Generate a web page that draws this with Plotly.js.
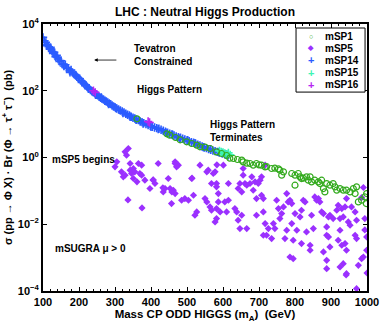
<!DOCTYPE html>
<html>
<head>
<meta charset="utf-8">
<script src="https://cdn.plot.ly/plotly-3.0.1.min.js"></script>
<style>
  html, body { margin: 0; padding: 0; background: #fff; }
  #chart { width: 382px; height: 327px; }
</style>
</head>
<body>
<div id="chart"></div>
<script>
// values: mass m_A in GeV, cross section as log10(sigma / pb)
const msp1Mass = [361, 444, 452, 468, 481, 499, 513, 527, 536, 550, 564, 582, 596, 610, 619, 629, 640, 652, 656, 666,
  675, 684, 693, 700, 707, 717, 721, 735, 744, 754, 758, 768, 763, 791, 800, 809, 814, 818, 823, 832,
  837, 842, 846, 855, 865, 869, 874, 879, 883, 888, 897, 906, 911, 916, 925, 934, 943, 953, 962, 971,
  967, 976, 985, 994, 999, 998, 800];
const msp1Log = [1.16, 0.71, 0.67, 0.60, 0.53, 0.47, 0.42, 0.37, 0.32, 0.31, 0.27, 0.17, 0.12, 0.06, -0.02, -0.03, -0.06, -0.08, -0.13, -0.17,
  -0.18, -0.23, -0.18, -0.22, -0.23, -0.28, -0.27, -0.33, -0.32, -0.34, -0.38, -0.43, -0.53, -0.48, -0.53, -0.48, -0.58, -0.63, -0.62, -0.58,
  -0.68, -0.58, -0.73, -0.68, -0.73, -0.78, -0.68, -0.93, -1.03, -0.78, -0.83, -0.78, -0.88, -0.98, -0.93, -0.98, -0.98, -1.03, -0.93, -0.88,
  -1.08, -1.33, -1.28, -1.18, -1.08, -1.38, -0.83];

const msp5Mass = [337, 332, 328, 300, 305, 318, 323, 328, 342, 346, 351, 355, 342, 365, 374, 369, 374, 351, 383, 397,
  406, 411, 420, 439, 434, 448, 453, 462, 467, 457, 467, 476, 471, 485, 494, 504, 513, 518, 522, 527,
  536, 550, 555, 559, 564, 568, 573, 578, 568, 582, 582, 587, 587, 578, 582, 592, 582, 601, 605, 615,
  610, 615, 633, 638, 642, 647, 642, 647, 652, 656, 661, 666, 652, 666, 656, 675, 680, 689, 684, 693,
  693, 698, 703, 707, 712, 712, 717, 712, 721, 707, 717, 726, 735, 740, 744, 749, 754, 758, 763, 768,
  777, 781, 786, 791, 772, 777, 791, 795, 786, 795, 800, 805, 814, 818, 818, 823, 828, 832, 842, 842,
  846, 851, 855, 860, 865, 869, 874, 879, 888, 893, 897, 888, 893, 879, 897, 888, 888, 906, 916, 920,
  925, 930, 934, 939, 943, 948, 953, 925, 920, 930, 939, 943, 925, 934, 943, 957, 967, 971, 967, 971,
  976, 985, 990, 999, 999, 971, 994, 942, 1000, 990, 985, 994, 361, 406, 433, 458, 467, 514, 555, 583,
  336, 375];
const msp5Log = [0.27, 0.07, 0.17, -0.28, -0.13, -0.43, -0.58, -0.53, -0.38, -0.48, -0.33, -0.43, -0.18, -0.18, -0.23, -0.48, -0.53, -0.63, -0.68, -0.93,
  -0.68, -0.78, -0.18, -0.93, -1.03, -0.63, -0.93, -0.98, -1.08, -1.38, -0.18, -0.23, -0.28, -1.28, -1.23, -1.28, -0.63, -1.13, -1.73, -1.63,
  -0.23, -1.23, -1.33, -0.38, -1.48, -1.58, -0.48, -0.43, -0.78, -0.78, -0.88, -1.08, -1.33, -1.93, -1.83, -1.63, -1.53, -0.23, -1.33, -1.28,
  -1.63, -0.78, -1.53, -1.63, -0.93, -0.78, -1.88, -2.13, -1.73, -0.53, -0.78, -0.83, -1.03, -2.13, -0.33, -0.78, -0.58, -0.73, -0.98, -1.23,
  -1.73, -0.78, -0.68, -1.13, -1.23, -1.63, -1.98, -2.33, -2.33, -0.58, -0.23, -2.13, -2.43, -1.98, -2.13, -1.28, -1.53, -1.83, -1.68, -1.48,
  -1.08, -1.33, -1.28, -1.38, -2.43, -2.18, -1.98, -2.48, -2.98, -3.03, -1.68, -2.18, -1.78, -1.58, -2.58, -1.28, -1.33, -2.23, -2.63, -2.78,
  -1.73, -2.13, -1.18, -1.28, -1.23, -1.33, -1.63, -1.68, -2.08, -1.78, -1.73, -2.33, -2.38, -2.83, -2.68, -3.08, -3.33, -1.83, -1.58, -1.43,
  -1.83, -1.53, -1.78, -1.48, -1.23, -1.93, -2.03, -2.18, -2.48, -2.63, -2.58, -2.78, -3.28, -3.18, -3.48, -1.48, -1.63, -1.88, -2.33, -2.43,
  -3.23, -3.03, -2.98, -2.38, -2.78, -3.93, -1.83, -3.52, -3.46, -0.90, -1.20, -2.17, -0.73, -0.67, -0.91, -1.03, -0.13, -0.62, -0.43, -0.22,
  -1.27, -1.51];

const msp14Mass = [100, 104, 108, 112, 116, 119, 121, 125, 128, 131, 135, 138, 142, 146, 150, 153, 158, 162, 166, 170,
  174, 178, 182, 186, 190, 194, 198, 202, 206, 210, 213, 217, 220, 224, 228, 232, 236, 240, 244, 248,
  252, 256, 260, 264, 268, 272, 276, 280, 284, 288, 292, 296, 300, 305, 310, 315, 320, 325, 330, 335,
  340, 345, 350, 355, 360, 365, 370, 375, 380, 386, 392, 398, 404, 410, 416, 422, 428, 434, 440, 446,
  452, 458, 464, 470, 476, 482, 488, 494, 500, 506, 512, 518, 524, 530, 536, 542, 548, 554, 560, 566,
  572, 578, 584, 590, 598, 606, 614,
  110, 123, 140, 157, 175, 192, 208, 226, 246, 262, 282, 302, 322, 342, 358, 378, 400, 420, 442, 460,
  480, 502, 522, 545, 565, 588, 610];
const msp14Log = [3.60, 3.50, 3.45, 3.38, 3.32, 3.26, 3.30, 3.18, 3.12, 3.15, 3.02, 3.06, 2.95, 2.88, 2.90, 2.80, 2.74, 2.78, 2.68, 2.66,
  2.60, 2.62, 2.55, 2.50, 2.47, 2.42, 2.38, 2.36, 2.30, 2.26, 2.22, 2.18, 2.15, 2.10, 2.08, 2.02, 1.99, 1.95, 1.92, 1.88,
  1.86, 1.82, 1.79, 1.76, 1.74, 1.70, 1.68, 1.65, 1.62, 1.60, 1.56, 1.53, 1.51, 1.47, 1.44, 1.41, 1.38, 1.35, 1.31, 1.28,
  1.26, 1.22, 1.19, 1.17, 1.13, 1.12, 1.08, 1.06, 1.03, 1.00, 0.97, 0.95, 0.92, 0.90, 0.88, 0.86, 0.83, 0.80, 0.77, 0.74,
  0.71, 0.69, 0.66, 0.63, 0.61, 0.59, 0.56, 0.54, 0.51, 0.49, 0.46, 0.44, 0.41, 0.38, 0.36, 0.33, 0.30, 0.28, 0.25, 0.23,
  0.21, 0.19, 0.17, 0.15, 0.12, 0.09, 0.06,
  3.35, 3.24, 3.00, 2.80, 2.55, 2.45, 2.25, 2.06, 1.88, 1.80, 1.60, 1.48, 1.33, 1.22, 1.14, 1.02, 0.92, 0.85, 0.74, 0.68,
  0.57, 0.52, 0.43, 0.31, 0.25, 0.16, 0.10];

const msp15Mass = [590, 595, 600, 605, 610, 615, 620];
const msp15Log = [0.20, 0.17, 0.15, 0.12, 0.10, 0.14, 0.08];

const msp16Mass = [240, 245, 392, 396];
const msp16Log = [2.00, 1.95, 1.08, 1.05];

const xTicks = [100, 200, 300, 400, 500, 600, 700, 800, 900, 1000];
const yTicks = [1e-4, 1e-2, 1, 1e2, 1e4];
const yTickText = ["10<sup>−4</sup>", "10<sup>−2</sup>", "10<sup>0</sup>", "10<sup>2</sup>", "10<sup>4</sup>"];

const font = "Liberation Sans, Arial, Helvetica, sans-serif";
const pow10 = a => a.map(v => Math.pow(10, v));

const colors = { msp1: "#33aa1e", msp5: "#9b30ff", msp14: "#2b5cff", msp15: "#3cf5b4", msp16: "#b526f2" };

const traces = [
  { x: msp5Mass, y: pow10(msp5Log), name: "mSP5", type: "scatter", mode: "markers",
    marker: { symbol: "diamond", size: 5.5, color: colors.msp5 } },
  { x: msp14Mass, y: pow10(msp14Log), name: "mSP14", type: "scatter", mode: "markers",
    marker: { symbol: "cross-thin", size: 6, color: colors.msp14, line: { width: 1.6, color: colors.msp14 } } },
  { x: msp15Mass, y: pow10(msp15Log), name: "mSP15", type: "scatter", mode: "markers",
    marker: { symbol: "cross-thin", size: 6, color: colors.msp15, line: { width: 1.6, color: colors.msp15 } } },
  { x: msp16Mass, y: pow10(msp16Log), name: "mSP16", type: "scatter", mode: "markers",
    marker: { symbol: "cross-thin", size: 6, color: colors.msp16, line: { width: 1.6, color: colors.msp16 } } },
  { x: msp1Mass, y: pow10(msp1Log), name: "mSP1", type: "scatter", mode: "markers",
    marker: { symbol: "circle-open", size: 6, color: colors.msp1, line: { width: 1.2, color: colors.msp1 } } }
];

// hand-drawn legend (plotly's rows are too tall for this box)
const legendRows = [
  { name: "mSP1", glyph: "○", color: colors.msp1 },
  { name: "mSP5", glyph: "◆", color: colors.msp5 },
  { name: "mSP14", glyph: "+", color: colors.msp14 },
  { name: "mSP15", glyph: "+", color: colors.msp15 },
  { name: "mSP16", glyph: "+", color: colors.msp16 }
];
const legendAnn = [];
legendRows.forEach((r, i) => {
  const yy = 0.955 - i * 0.0458;
  legendAnn.push({ xref: "paper", yref: "paper", x: 0.826, y: yy, text: r.glyph, showarrow: false, borderpad: 0,
    xanchor: "center", yanchor: "middle", font: { family: font, size: r.glyph === "+" ? 11 : 7, color: r.color, weight: "bold" } });
  legendAnn.push({ xref: "paper", yref: "paper", x: 0.868, y: yy, text: r.name, showarrow: false, borderpad: 0,
    xanchor: "left", yanchor: "middle", font: { family: font, size: 10, color: "#000", weight: "bold" } });
});

const textFont = { family: font, size: 10, color: "#000", weight: "bold" };
const notes = [
  { x: 347, y: 3.06, text: "Tevatron<br>Constrained", xanchor: "left", align: "left", showarrow: false, font: textFont },
  { x: 242, y: 2.92, ax: 308, ay: 2.92, axref: "x", ayref: "y", text: "", showarrow: true,
    arrowhead: 2, arrowsize: 0.9, arrowwidth: 0.8, arrowcolor: "#000" },
  { x: 356, y: 2.05, text: "Higgs Pattern", xanchor: "left", showarrow: false, font: textFont },
  { x: 558, y: 0.78, text: "Higgs Pattern<br>Terminates", xanchor: "left", align: "left", showarrow: false, font: textFont },
  { x: 119, y: -0.05, text: "mSP5 begins", xanchor: "left", showarrow: false, font: textFont },
  { x: 128, y: -2.74, text: "mSUGRA μ > 0", xanchor: "left", showarrow: false, font: textFont }
];

const layout = {
  width: 382, height: 327,
  margin: { l: 43, r: 15, t: 24, b: 36 },
  paper_bgcolor: "#fff", plot_bgcolor: "#fff",
  showlegend: false,
  font: { family: font, size: 11, color: "#000" },
  title: { text: "LHC : Neutral Higgs Production", x: 0.5, xref: "paper", y: 0.963, yref: "container",
    yanchor: "middle", font: { family: font, size: 12, weight: "bold", color: "#000" } },
  xaxis: {
    range: [100, 1000], tickvals: xTicks, ticks: "inside", ticklen: 4, tickwidth: 1, tickcolor: "#000",
    showline: true, linecolor: "#000", linewidth: 2, mirror: "ticks", showgrid: false, zeroline: false,
    tickfont: { family: font, size: 11, weight: "bold" },
    minor: { dtick: 20, ticks: "inside", ticklen: 2, tickcolor: "#000", showgrid: false },
    title: { text: "Mass CP ODD HIGGS (m<sub>A</sub>)  (GeV)", standoff: 2, font: { family: font, size: 11.5, weight: "bold" } }
  },
  yaxis: {
    type: "log", range: [-4, 4], tickvals: yTicks, ticktext: yTickText, ticks: "inside", ticklen: 4, tickcolor: "#000",
    showline: true, linecolor: "#000", linewidth: 2, mirror: "ticks", showgrid: false, zeroline: false,
    tickfont: { family: font, size: 11, weight: "bold" },
    title: { text: "σ (pp → Φ X) · Br (Φ → τ<sup>+</sup> τ<sup>−</sup>)  (pb)", standoff: 4,
      font: { family: font, size: 11, weight: "bold" } }
  },
  shapes: [
    { type: "rect", xref: "paper", yref: "paper", x0: 0.781, x1: 0.994, y0: 0.745, y1: 0.985,
      line: { color: "#000", width: 1 }, fillcolor: "#fff", layer: "above" }
  ],
  annotations: notes.concat(legendAnn)
};

Plotly.newPlot("chart", traces, layout, { displayModeBar: false, staticPlot: true });
</script>
</body>
</html>
